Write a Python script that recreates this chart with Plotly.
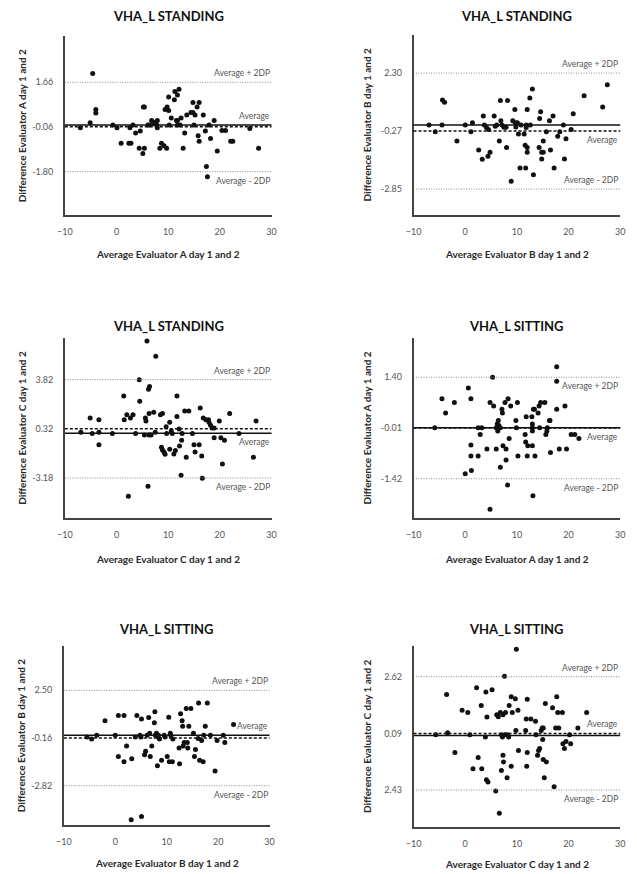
import plotly.graph_objects as go

# ---------------- data ----------------
titles = ["VHA_L STANDING", "VHA_L STANDING", "VHA_L STANDING",
          "VHA_L SITTING", "VHA_L SITTING", "VHA_L SITTING"]
x_titles = ["Average Evaluator A day 1 and 2", "Average Evaluator B day 1 and 2",
            "Average Evaluator C day 1 and 2", "Average Evaluator A day 1 and 2",
            "Average Evaluator B day 1 and 2", "Average Evaluator C day 1 and 2"]
y_titles = ["Difference Evaluator A day 1 and 2", "Difference Evaluator B day 1 and 2",
            "Difference Evaluator C day 1 and 2", "Difference Evaluator A day 1 and 2",
            "Difference Evaluator B day 1 and 2", "Difference Evaluator C day 1 and 2"]

means = [-0.06, -0.27, 0.32, -0.01, -0.16, 0.09]
upper = [1.66, 2.30, 3.82, 1.40, 2.50, 2.62]
lower = [-1.80, -2.85, -3.18, -1.42, -2.82, -2.43]
tick_text = [["-1.80", "-0.06", "1.66"], ["-2.85", "-0.27", "2.30"],
             ["-3.18", "0.32", "3.82"], ["-1.42", "-0.01", "1.40"],
             ["-2.82", "-0.16", "2.50"], ["2.43", "0.09", "2.62"]]
x_ticks = [-10, 0, 10, 20, 30]

a_st_x = [-7.0, -4.6, -5.1, -4.0, -4.0, -0.7, 0.1, 0.9, 2.4, 2.8, 2.6, 3.2, 3.7, 4.6, 4.4, 5.1, 5.4,
          5.2, 5.4, 6.1, 6.4, 6.8, 7.2, 7.4, 7.8, 7.9, 7.9, 8.4, 8.7, 9.2, 9.7, 9.4, 9.8, 10.1, 10.1,
          10.2, 10.6, 11.2, 11.3, 11.6, 11.8, 11.8, 12.1, 11.8, 12.3, 12.5, 12.9, 13.2, 13.6, 14.4,
          14.8, 14.8, 15.2, 15.0, 15.6, 15.8, 16.0, 16.0, 16.8, 17.2, 17.4, 17.9, 17.6, 18.2, 18.9,
          19.5, 20.4, 21.1, 22.1, 22.5, 25.8, 27.5]
a_st_y = [-0.10, 2.0, 0.09, 0.6, 0.47, 0.0, -0.1, -0.7, -0.7, -0.7, -0.1, 0.0, -0.31, -0.23, -0.9,
          -1.1, -0.9, 0.7, 0.7, 0.0, 0.0, 0.18, 0.05, 0.1, 0.0, 0.18, -0.1, -0.9, -0.7, -0.8, -0.9,
          0.6, 0.7, 0.57, 1.09, 0.0, 0.28, 0.98, 1.3, 0.18, 0.18, 1.17, 1.39, 0.0, 0.0, 0.28, -0.9,
          -0.31, 0.39, 0.49, 0.88, 0.49, 0.39, 0.0, 0.7, -0.41, 0.88, -0.62, 0.39, -0.23, -1.6, 0.0,
          -2.0, -0.52, 0.18, -1.0, -0.21, -0.21, -0.62, -0.62, -0.13, -0.9]

b_st_x = [-7.0, -5.8, -4.5, -4.4, -4.0, -1.6, 0.0, 1.1, 1.4, 2.6, 3.3, 3.5, 3.7, 4.1, 4.4, 4.5, 4.8,
          5.6, 5.8, 6.1, 6.6, 6.8, 6.9, 7.1, 7.5, 7.9, 8.0, 8.2, 8.9, 9.2, 9.6, 9.7, 9.8, 10.1, 10.3,
          10.6, 10.8, 11.4, 11.6, 11.7, 11.8, 11.8, 12.0, 12.0, 12.0, 12.5, 12.6, 13.0, 13.2, 14.3,
          14.4, 14.6, 14.8, 14.8, 15.1, 15.1, 15.7, 16.3, 16.5, 17.0, 17.2, 17.9, 18.3, 19.0, 19.2,
          19.5, 20.5, 20.9, 23.0, 26.6, 27.5]
b_st_y = [0.0, -0.31, 0.0, 1.1, 1.0, -0.71, 0.0, -0.31, 0.09, -1.11, -1.53, 0.39, 0.0, -0.12, -1.39,
          -0.21, -1.22, 0.39, -0.06, 0.0, -0.71, 1.08, 0.18, 0.0, -0.1, -0.1, -1.0, 1.08, -2.5, 0.18,
          0.68, 0.09, -0.09, 0.09, -0.4, -1.91, 0.0, -0.4, -0.9, -1.91, 0.0, -0.12, 0.68, -1.0, -1.22,
          1.19, 0.0, 1.59, -2.21, -1.0, 0.28, 0.58, -1.22, -1.51, -0.71, -1.22, -0.31, 0.18, -1.11,
          0.39, -1.91, -0.5, -0.31, 0.0, -1.51, -0.61, -0.21, 0.49, 1.29, 0.79, 1.78]

c_st_x = [-6.9, -5.1, -4.7, -3.4, -3.4, -3.4, -0.8, 1.4, 1.5, 2.0, 2.3, 2.7, 3.2, 3.7, 4.4, 4.5, 5.4,
          5.6, 5.7, 5.9, 6.1, 6.2, 6.4, 6.3, 6.3, 6.7, 7.2, 7.5, 7.6, 8.5, 8.9, 8.7, 8.9, 9.2, 9.4,
          9.6, 9.7, 10.3, 10.3, 10.6, 10.8, 11.1, 11.4, 11.7, 11.7, 12.1, 12.2, 12.5, 12.6, 12.7,
          13.2, 13.5, 14.0, 14.7, 15.0, 15.2, 16.0, 16.2, 16.5, 16.6, 16.8, 17.3, 17.8, 17.9, 18.2,
          18.5, 18.9, 18.9, 19.9, 20.2, 20.5, 20.9, 21.9, 23.7, 26.5, 27.0]
c_st_y = [0.07, 1.09, -0.02, 0.97, 0.07, -0.81, -0.02, 2.66, 0.97, 1.31, -4.49, 1.09, 1.31, -0.02,
          3.80, 2.28, -0.12, 1.09, 0.88, 6.57, -3.77, 3.13, 3.32, 1.4, -0.12, -0.12, 1.5, 0.07, 5.48,
          1.31, 1.4, -1.0, -1.19, -1.33, -1.5, 0.47, -0.02, 0.78, -1.14, 0.17, -0.02, -1.47, -1.23,
          2.66, 1.19, 0.31, -0.9, -2.99, -0.5, -0.02, 1.59, -1.71, 1.59, -0.02, -0.81, -1.33, -0.81,
          1.8, -1.61, -3.2, 1.09, 0.97, 0.97, 0.78, 0.57, 0.38, 0.38, -0.31, 0.88, -0.31, -2.18, -0.5,
          1.4, -0.02, -1.71, 0.88]

a_si_x = [-5.9, -4.5, -3.8, -2.1, 0.0, 0.6, 1.1, 1.1, 1.1, 1.2, 2.5, 2.5, 2.9, 3.2, 4.2, 4.8, 4.8,
          5.3, 5.5, 6.0, 6.0, 6.2, 6.3, 6.4, 6.5, 6.8, 6.8, 7.1, 7.2, 7.3, 7.7, 7.9, 7.9, 8.2, 8.3,
          8.5, 8.8, 9.8, 9.9, 10.1, 10.2, 11.6, 11.7, 11.8, 12.0, 12.1, 12.9, 13.0, 13.0, 13.0, 13.0,
          13.1, 13.2, 13.4, 13.5, 14.1, 14.4, 14.3, 14.6, 15.4, 15.6, 15.8, 15.9, 16.3, 16.4, 16.5,
          17.7, 17.7, 17.7, 18.2, 19.3, 19.6, 20.5, 21.2, 22.0]
a_si_y = [0.0, 0.8, 0.41, 0.7, -1.28, 1.1, 0.8, -0.48, -0.79, -1.19, 0.0, -0.79, -0.19, 0.0, -0.59,
          0.7, -2.27, 1.40, 0.6, -0.59, 0.0, 0.1, -0.09, 0.2, 0.06, 0.0, -1.1, 0.51, 0.41, -0.5, 0.7,
          -0.59, -0.9, -1.59, 0.8, -0.3, 0.6, 0.2, 0.0, 0.7, -0.79, -0.19, -0.4, 0.3, -0.79, -0.5, 0.3,
          0.1, 0.0, -0.09, -0.5, -1.89, 0.51, 0.51, -0.79, 0.41, 0.0, 0.6, 0.7, 0.7, -0.19, -0.09, 0.0,
          0.2, 0.2, -0.69, 1.69, 1.29, 0.51, -0.59, 0.6, -0.59, -0.19, -0.19, -0.3]

b_si_x = [-5.5, -4.6, -3.6, -2.0, 0.0, 0.6, 0.6, 1.7, 1.7, 2.2, 3.1, 3.2, 3.9, 4.2, 4.8, 5.0, 5.1,
          5.1, 5.7, 5.9, 6.2, 6.5, 6.7, 6.8, 7.1, 7.6, 7.7, 7.8, 8.0, 8.2, 8.3, 8.4, 8.6, 9.0, 9.5,
          9.7, 10.1, 10.4, 10.5, 10.7, 10.8, 11.1, 11.2, 12.4, 12.5, 12.7, 13.0, 13.1, 13.2, 13.4,
          13.8, 14.0, 14.1, 14.3, 14.7, 15.2, 15.4, 15.6, 16.1, 16.2, 16.4, 16.8, 17.1, 17.2, 17.5,
          17.9, 18.5, 19.4, 19.8, 21.0, 21.3, 23.0]
b_si_y = [-0.11, -0.22, 0.0, 0.8, 0.0, 1.1, -1.19, 1.1, -1.49, -0.6, -4.72, -1.31, -0.11, 1.1, 0.0,
          -0.11, -4.54, 0.9, -1.1, -0.9, 0.0, 0.99, 0.11, -1.19, -0.6, 0.69, 1.31, 0.0, 0.11, -1.7,
          -0.11, 0.0, -0.22, -1.4, 0.0, -0.11, -1.19, 1.0, -1.49, 0.11, 0.0, -1.49, -0.22, -0.71, -1.6,
          1.19, 0.8, 0.5, -0.6, -0.41, 1.49, -0.41, -0.71, 0.5, 1.49, 0.11, -1.19, -0.8, -0.19, 1.79,
          -1.4, -0.3, -1.49, 0.0, 0.5, 1.79, 0.0, -2.0, -0.3, 0.0, -0.41, 0.6]

c_si_x = [-5.7, -3.6, -3.4, -2.0, -0.6, 0.5, 0.9, 1.5, 2.2, 2.5, 3.1, 3.2, 3.9, 4.0, 4.1, 4.2, 4.4,
          5.2, 5.9, 6.1, 6.4, 6.6, 6.8, 7.0, 7.0, 7.2, 7.3, 7.3, 7.4, 7.6, 7.7, 7.8, 8.1, 8.2, 8.4,
          8.5, 8.9, 8.9, 9.1, 9.7, 9.8, 9.9, 10.2, 10.3, 11.7, 11.8, 12.0, 12.0, 11.9, 12.7, 13.6,
          13.7, 14.0, 14.2, 14.4, 14.7, 14.9, 15.0, 15.1, 15.1, 15.3, 15.5, 15.7, 16.9, 17.2, 17.5,
          17.7, 17.9, 18.1, 18.8, 18.9, 19.2, 19.5, 20.2, 20.4, 21.8, 23.5]
c_si_y = [0.03, 1.83, 0.12, -0.76, 1.13, 1.03, 0.03, -1.48, 2.13, -0.98, 1.34, -1.48, -0.07, 1.94,
          -1.97, 0.82, -2.07, 2.04, -2.47, 0.92, 0.83, -3.47, 1.03, -1.56, 0.03, -0.07, 0.92, -0.88,
          -1.18, 2.64, 0.03, 1.03, -1.88, 0.03, -0.07, 1.34, 1.73, -1.37, 1.03, 1.64, 0.22, 3.85, 1.13,
          -0.67, 0.22, 0.73, 1.62, -0.76, -1.37, 0.73, 0.63, 0.03, -0.88, -0.67, -0.58, 0.22, 0.33,
          -0.18, -1.07, 0.33, -1.88, 1.43, -1.18, 1.24, -2.28, 0.33, 1.73, 1.03, 0.33, 1.03, -0.37,
          -0.58, -0.27, 0.03, -0.37, 0.33, 1.03]

xs = [a_st_x, b_st_x, c_st_x, a_si_x, b_si_x, c_si_x]
ys = [a_st_y, b_st_y, c_st_y, a_si_y, b_si_y, c_si_y]

# ---------------- layout / style ----------------
W, H = 637, 874
# plot-area pixel boxes: (left, right, top, bottom)
boxes = [(58, 269, 36, 215), (414, 625, 35, 215),
         (58, 269, 338, 518), (414, 625, 338, 518),
         (57, 267, 646, 825), (414, 625, 646, 827)]
y_ranges = [(-3.48, 3.45), (-4.0, 3.99), (-6.03, 6.78), (-2.51, 2.49), (-5.01, 4.97), (-4.08, 3.99)]
title_y = [16, 16, 326, 326, 629, 629]
xtitle_y = [254, 254, 559, 559, 863, 864]
ytitle_off = [44, 48, 44, 48, 44, 48]
# label placement: +1 above line, -1 below
up_pos = [1, 1, 1, -1, 1, 1]
avg_pos = [1, -1, -1, -1, 1, 1]
low_pos = [-1, 1, -1, -1, -1, -1]

FONT = "Lato"
GREY = "#555555"
AXIS = "#444444"

fig = go.Figure()
annotations = []
shapes = []

def px(x):
    return x / W

def py(y):
    return 1 - y / H

for i in range(6):
    n = "" if i == 0 else str(i + 1)
    xa, ya = "x" + n, "y" + n
    l, r, t, b = boxes[i]
    fig.add_trace(go.Scatter(x=xs[i], y=ys[i], mode="markers", xaxis=xa, yaxis=ya,
                             marker=dict(color="#111111", size=5), showlegend=False,
                             hoverinfo="x+y"))
    fig.layout["xaxis" + n] = dict(domain=[px(l), px(r)], anchor=ya, range=[-10, 30],
                                   tickvals=x_ticks, showgrid=False, zeroline=False,
                                   showline=True, linecolor=AXIS, linewidth=1.5,
                                   ticks="", ticklabelstandoff=7,
                                   tickfont=dict(family=FONT, size=9, color=GREY))
    fig.layout["yaxis" + n] = dict(domain=[py(b), py(t)], anchor=xa, range=list(y_ranges[i]),
                                   tickvals=[lower[i], means[i], upper[i]], ticktext=tick_text[i],
                                   showgrid=False, zeroline=False, showline=True,
                                   linecolor=AXIS, linewidth=1.5, ticks="",
                                   ticklabelstandoff=8,
                                   tickfont=dict(family=FONT, size=9, color=GREY))
    xd, yd = xa + " domain", ya
    # limit lines
    for v in (upper[i], lower[i]):
        shapes.append(dict(type="line", xref=xd, yref=yd, x0=0, x1=1, y0=v, y1=v,
                           line=dict(color="#8a8a8a", width=1, dash="1px,1.5px")))
    # zero line (solid) and mean (dashed)
    shapes.append(dict(type="line", xref=xd, yref=yd, x0=0, x1=1, y0=0, y1=0,
                       line=dict(color="#111111", width=1.5)))
    shapes.append(dict(type="line", xref=xd, yref=yd, x0=0, x1=1, y0=means[i], y1=means[i],
                       line=dict(color="#111111", width=1.6, dash="3px,2px")))
    # line labels
    for val, pos, txt in ((upper[i], up_pos[i], "Average + 2DP"),
                          (means[i], avg_pos[i], "Average"),
                          (lower[i], low_pos[i], "Average - 2DP")):
        if txt == "Average":
            val = max(0, means[i]) if pos > 0 else min(0, means[i])
        annotations.append(dict(xref=xd, yref=yd, x=1, y=val, text=txt, showarrow=False,
                                xanchor="right", yanchor="bottom" if pos > 0 else "top",
                                yshift=2 if pos > 0 else -2,
                                font=dict(family=FONT, size=8.5, color=GREY)))
    # panel title
    annotations.append(dict(xref="paper", yref="paper", x=px((l + r) / 2), y=py(title_y[i]),
                            text="<b>" + titles[i] + "</b>", showarrow=False,
                            xanchor="center", yanchor="middle",
                            font=dict(family=FONT, size=13, color="#111111")))
    # axis titles
    annotations.append(dict(xref="paper", yref="paper", x=px((l + r) / 2), y=py(xtitle_y[i]),
                            text="<b>" + x_titles[i] + "</b>", showarrow=False,
                            xanchor="center", yanchor="middle",
                            font=dict(family=FONT, size=10, color="#2a2a2a")))
    annotations.append(dict(xref="paper", yref="paper", x=px(l - ytitle_off[i]),
                            y=py((t + b) / 2), text="<b>" + y_titles[i] + "</b>",
                            showarrow=False, textangle=-90, xanchor="center", yanchor="middle",
                            font=dict(family=FONT, size=10, color="#2a2a2a")))

fig.update_layout(width=W, height=H, margin=dict(l=0, r=0, t=0, b=0),
                  paper_bgcolor="white", plot_bgcolor="white",
                  annotations=annotations, shapes=shapes, showlegend=False)

fig.write_html("out.html")
